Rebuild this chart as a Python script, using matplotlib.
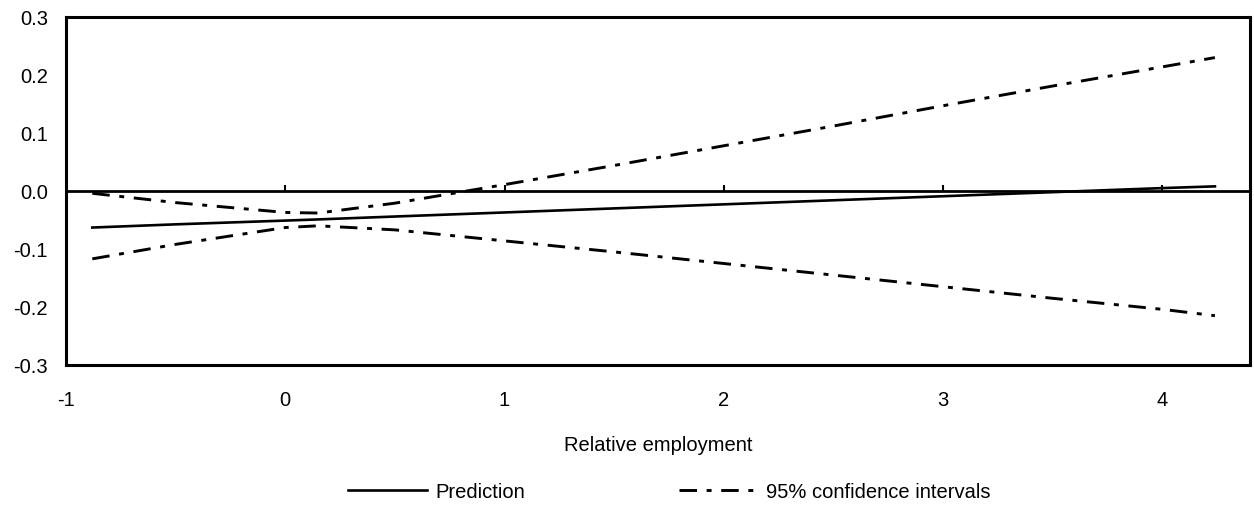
import matplotlib
matplotlib.use('Agg')
import matplotlib.pyplot as plt

plt.rcParams['font.family'] = ['Liberation Sans', 'DejaVu Sans']
plt.rcParams['font.size'] = 14.5

# relative employment grid and fitted values
x = [-0.88, -0.5, 0.0, 0.15, 0.5, 1.0, 1.5, 2.0, 2.5, 3.0, 3.5, 4.0, 4.24]
prediction = [-0.063, -0.0575, -0.051, -0.049, -0.044, -0.037, -0.030,
              -0.023, -0.016, -0.009, -0.002, 0.005, 0.008]
upper_ci = [-0.004, -0.020, -0.037, -0.038, -0.021, 0.011, 0.044,
            0.078, 0.112, 0.147, 0.181, 0.214, 0.230]
lower_ci = [-0.117, -0.092, -0.063, -0.060, -0.067, -0.086, -0.105,
            -0.125, -0.145, -0.165, -0.185, -0.204, -0.215]

x_ticks = [-1, 0, 1, 2, 3, 4]
y_ticks = [-0.3, -0.2, -0.1, 0.0, 0.1, 0.2, 0.3]

fig = plt.figure(figsize=(12.54, 5.06), dpi=100)
ax = fig.add_axes([66 / 1254, 1 - 366 / 506, (1250 - 66) / 1254, (366 - 18) / 506])

dashdot = (0, (6, 3.3, 1.7, 3.3))
ax.plot(x, prediction, color='black', lw=1.9, label='Prediction')
ax.plot(x, upper_ci, color='black', lw=2.1, linestyle=dashdot,
        label='95% confidence intervals')
ax.plot(x, lower_ci, color='black', lw=2.1, linestyle=dashdot)

ax.set_xlim(-1, 4.4)
ax.set_ylim(-0.3, 0.3)
ax.set_xticks(x_ticks)
ax.set_xticklabels([str(t) for t in x_ticks])
ax.set_yticks(y_ticks)
ax.set_yticklabels(['%.1f' % t for t in y_ticks])
ax.tick_params(axis='x', length=0, pad=18)
ax.tick_params(axis='y', length=0, pad=13)
for s in ax.spines.values():
    s.set_linewidth(2.2)

# zero line with small upward tick marks
zero_axis = ax.secondary_xaxis(0.5)
zero_axis.set_xticks([0, 1, 2, 3, 4])
zero_axis.tick_params(direction='out', length=4.5, width=1.5,
                      labeltop=False, labelbottom=False)
zero_axis.spines['top'].set_linewidth(2.0)

ax.set_xlabel('Relative employment', labelpad=19)

fig.legend(loc='center left', bbox_to_anchor=(348 / 1254, 1 - 493 / 506), ncol=2,
           frameon=False, borderpad=0, borderaxespad=0,
           handlelength=3.93, handletextpad=0.4, columnspacing=7.65)

fig.savefig('out.png', dpi=100)
